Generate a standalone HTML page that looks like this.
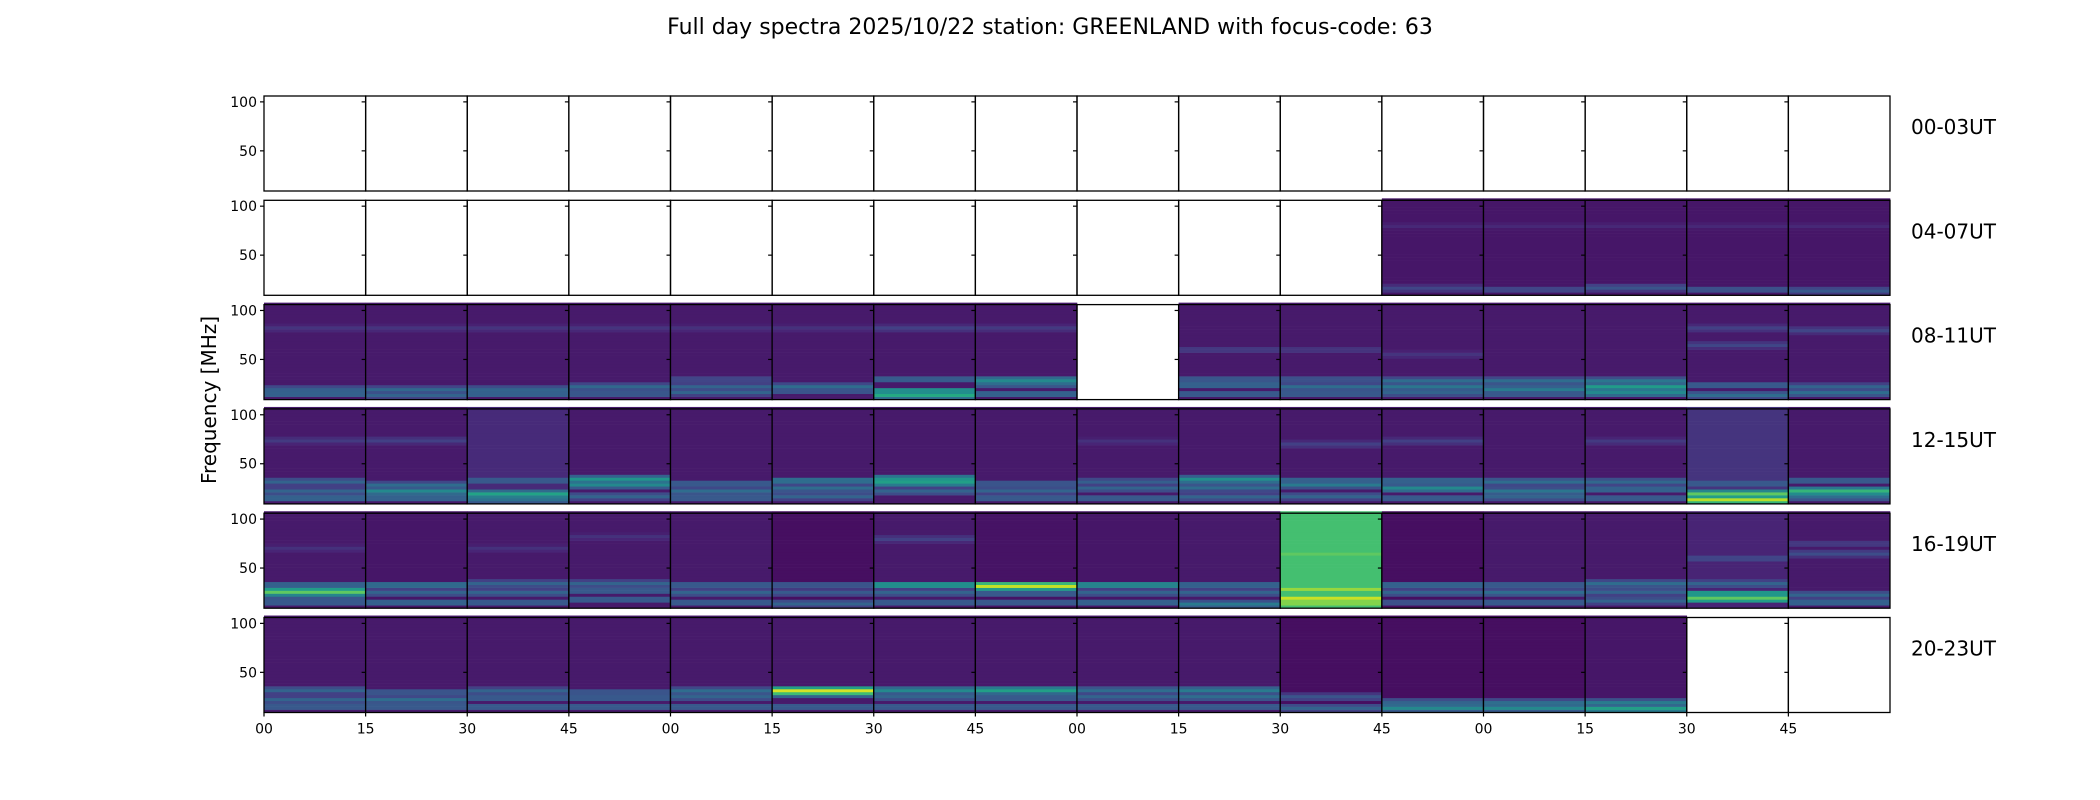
<!DOCTYPE html>
<html><head><meta charset="utf-8"><style>
body{margin:0;background:#fff;font-family:"Liberation Sans","DejaVu Sans",sans-serif}
svg{display:block}
text{font-family:"DejaVu Sans","Liberation Sans",sans-serif}
</style></head><body>
<svg id="chart" width="2100" height="800" viewBox="0 0 2100 800" xmlns="http://www.w3.org/2000/svg">
<text x="1050" y="34" font-size="22" text-anchor="middle">Full day spectra 2025/10/22 station: GREENLAND with focus-code: 63</text>
<text x="0" y="0" font-size="20" text-anchor="middle" transform="translate(216,400) rotate(-90)">Frequency [MHz]</text>
<g id="panels"></g>
</svg>
<script>
const rowLabels = ["00-03UT","04-07UT","08-11UT","12-15UT","16-19UT","20-23UT"];
const xTickLabels = ["00","15","30","45","00","15","30","45","00","15","30","45","00","15","30","45"];
const yTicks = [100, 50];
const freqMin = 9, freqMax = 106, binWidth = 3;
// Panel data: null = no data; otherwise [baseLevel, [[freqMHz, level], ...]]
const row0 = [null,null,null,null,null,null,null,null,null,null,null,null,null,null,null,null];
const row1 = [null,null,null,null,null,null,null,null,null,null,null,
  [0.06,[[16,0.22],[80,0.12]]],[0.06,[[15,0.25],[80,0.12]]],[0.06,[[17,0.28],[80,0.12]]],[0.06,[[15,0.3],[80,0.12]]],[0.06,[[14,0.3],[80,0.12]]]];
const row2 = [
  [0.07,[[15,0.38],[20,0.32],[82,0.16]]],[0.07,[[14,0.34],[19,0.36],[82,0.16]]],[0.07,[[15,0.38],[20,0.34],[82,0.16]]],[0.07,[[15,0.33],[22,0.36],[82,0.16]]],
  [0.07,[[17,0.34],[22,0.34],[30,0.25],[82,0.15]]],[0.07,[[18,0.32],[22,0.38],[82,0.15]]],[0.07,[[14,0.65],[18,0.6],[30,0.35],[82,0.2]]],[0.07,[[15,0.38],[25,0.38],[29,0.5],[82,0.18]]],
  null,[0.07,[[15,0.34],[24,0.38],[30,0.33],[60,0.2]]],[0.07,[[15,0.34],[22,0.38],[30,0.3],[60,0.18]]],[0.07,[[16,0.34],[22,0.42],[28,0.38],[55,0.16]]],
  [0.07,[[15,0.34],[20,0.44],[28,0.38]]],[0.07,[[16,0.5],[22,0.58],[28,0.42]]],[0.07,[[14,0.38],[24,0.34],[65,0.22],[82,0.2]]],[0.07,[[16,0.38],[22,0.34],[80,0.22]]]];
const row3 = [
  [0.07,[[15,0.38],[22,0.34],[32,0.34],[74,0.18]]],[0.07,[[15,0.38],[22,0.5],[28,0.38],[74,0.2]]],[0.12,[[13,0.4],[19,0.62],[33,0.34]]],[0.07,[[17,0.34],[29,0.5],[34,0.55]]],
  [0.07,[[15,0.34],[22,0.38],[30,0.34]]],[0.07,[[17,0.34],[25,0.38],[33,0.44]]],[0.07,[[22,0.34],[31,0.6],[35,0.55]]],[0.07,[[15,0.34],[23,0.34],[30,0.32]]],
  [0.07,[[15,0.34],[25,0.34],[32,0.32],[73,0.15]]],[0.07,[[16,0.34],[26,0.38],[34,0.52]]],[0.07,[[17,0.34],[29,0.44],[33,0.38],[70,0.2]]],[0.07,[[15,0.34],[25,0.5],[33,0.38],[73,0.2]]],
  [0.07,[[16,0.34],[22,0.42],[32,0.38]]],[0.07,[[15,0.34],[24,0.38],[32,0.36],[73,0.18]]],[0.15,[[13,0.95],[19,0.8],[30,0.34]]],[0.07,[[16,0.38],[22,0.7],[33,0.34]]]];
const row4 = [
  [0.07,[[15,0.34],[22,0.38],[26,0.8],[33,0.38],[70,0.15]]],[0.06,[[15,0.38],[25,0.34],[33,0.42]]],[0.07,[[15,0.34],[25,0.34],[34,0.34],[70,0.15]]],[0.07,[[18,0.34],[27,0.34],[34,0.34],[82,0.15]]],
  [0.07,[[15,0.34],[25,0.34],[33,0.34]]],[0.04,[[14,0.34],[25,0.3],[33,0.32]]],[0.07,[[15,0.34],[25,0.34],[33,0.6],[80,0.2]]],[0.05,[[15,0.34],[24,0.34],[32,0.97]]],
  [0.06,[[15,0.38],[25,0.34],[33,0.55]]],[0.07,[[13,0.44],[25,0.34],[33,0.38]]],[0.7,[[15,1.0],[20,0.98],[28,0.9],[45,0.85],[65,0.8],[90,0.62],[100,0.55]]],[0.04,[[15,0.3],[25,0.34],[33,0.38]]],
  [0.07,[[15,0.34],[25,0.38],[33,0.34]]],[0.07,[[17,0.34],[26,0.34],[34,0.38]]],[0.1,[[19,0.8],[24,0.65],[34,0.34],[60,0.25]]],[0.07,[[15,0.38],[23,0.34],[65,0.25],[75,0.2]]]];
const row5 = [
  [0.07,[[15,0.34],[22,0.34],[32,0.34]]],[0.07,[[15,0.34],[22,0.38],[30,0.32]]],[0.07,[[15,0.34],[24,0.34],[31,0.34]]],[0.07,[[15,0.34],[24,0.34],[30,0.32]]],
  [0.07,[[15,0.34],[25,0.34],[31,0.38]]],[0.07,[[15,0.34],[27,0.38],[31,1.0]]],[0.07,[[15,0.34],[25,0.34],[32,0.5]]],[0.07,[[15,0.34],[24,0.34],[32,0.6]]],
  [0.07,[[15,0.34],[25,0.34],[32,0.38]]],[0.07,[[15,0.34],[25,0.38],[32,0.44]]],[0.04,[[14,0.34],[25,0.28]]],[0.04,[[14,0.5],[20,0.34]]],
  [0.04,[[14,0.5],[19,0.38]]],[0.06,[[13,0.6],[19,0.44]]],null,null];
const rows = [row0,row1,row2,row3,row4,row5];

const X0 = 264, PW = 101.625, Y0 = 96, PH = 95, RP = 104.3;
const vir = [[68,1,84],[72,36,117],[65,68,135],[53,95,141],[42,120,142],[33,145,140],[34,168,132],[68,191,112],[122,209,81],[189,223,38],[253,231,37]];
function viridis(t){t=Math.max(0,Math.min(1,t));const s=t*(vir.length-1),i=Math.min(vir.length-2,Math.floor(s)),f=s-i;
  const c=vir[i].map((v,k)=>Math.round(v+(vir[i+1][k]-v)*f));return `rgb(${c[0]},${c[1]},${c[2]})`;}
function xPos(col){return X0+col*PW;}
function yPos(r,f){return Y0+r*RP+(freqMax-f)/(freqMax-freqMin)*PH;}
const NS="http://www.w3.org/2000/svg";
const g=document.getElementById('panels');
function mk(tag,attrs,parent){const e=document.createElementNS(NS,tag);for(const k in attrs)e.setAttribute(k,attrs[k]);(parent||g).appendChild(e);return e;}

rows.forEach((row,r)=>{
  row.forEach((p,c)=>{
    const px=xPos(c), pg=mk('g',{});
    
    
    if(p){
      const [base,bands]=p;
      for(let f=freqMin; f<freqMax; f+=binWidth){
        let v=base;
        bands.forEach(b=>{const d=Math.abs(f+binWidth/2-b[0]);if(d<4)v=Math.max(v,b[1]*(1-d/8));});
        const cell=mk('rect',{x:px,y:yPos(r,f+binWidth),width:PW+0.3,height:(binWidth/(freqMax-freqMin))*PH+0.3,fill:viridis(v)},pg);
        
        
      }
    }
    const fr=mk('rect',{x:px,y:Y0+r*RP,width:PW,height:PH,fill:'none',stroke:'#000','stroke-width':1.3},pg);
    
    
    yTicks.forEach(t=>{
      const y=yPos(r,t);
      mk('line',{x1:px-4,x2:px,y1:y,y2:y,stroke:'#000','stroke-width':1.2},pg);
      if(c===0){const tl=mk('text',{x:px-7,y:y+5,'font-size':14,'text-anchor':'end'},pg);tl.textContent=t;
        
        }
    });
  });
  const rl=mk('text',{x:1911,y:Y0+r*RP+38,'font-size':20});
  rl.textContent=rowLabels[r];
  
  
});
xTickLabels.forEach((l,i)=>{
  const x=xPos(i), yb=Y0+5*RP+PH;
  mk('line',{x1:x,x2:x,y1:yb,y2:yb+4,stroke:'#000','stroke-width':1.2});
  const t=mk('text',{x:x,y:yb+21,'font-size':14,'text-anchor':'middle'});
  t.textContent=l;
  
  
});
</script>
</body></html>
